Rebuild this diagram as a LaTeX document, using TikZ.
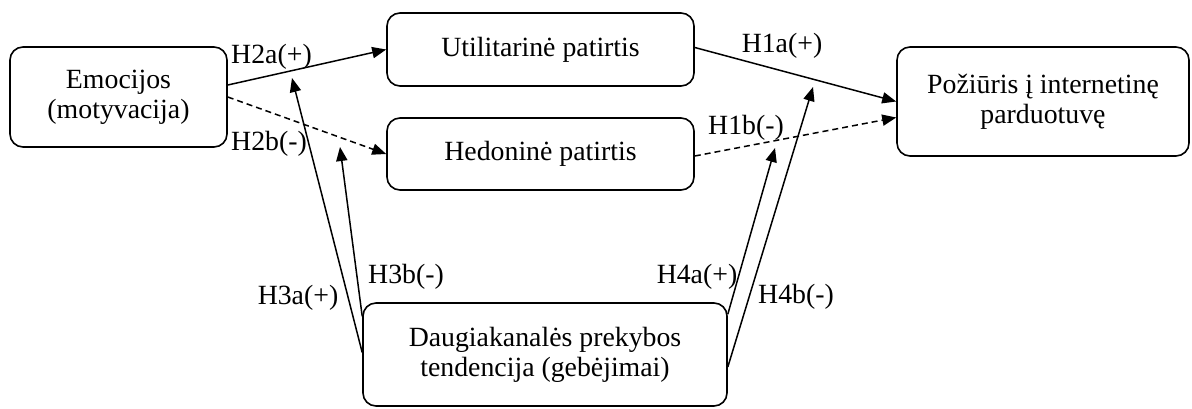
\documentclass[tikz,border=0pt]{standalone}
\usepackage{fontspec}
\setmainfont{Liberation Serif}
\usetikzlibrary{arrows.meta}
\tikzset{
  box/.style={draw, line width=0.8pt, rounded corners=6.5pt, align=center,
    inner sep=0pt, font=\fontsize{13.9}{15}\selectfont},
  link/.style={line width=0.75pt, -{Triangle[length=7pt,width=5.6pt]}},
  dashlink/.style={link, dash pattern=on 3pt off 2pt},
  hyp/.style={inner sep=0pt, font=\fontsize{13.9}{15}\selectfont}
}
\begin{document}
\begin{tikzpicture}[x=0.5pt, y=-0.5pt]
\useasboundingbox (0,0) rectangle (1192,408);

% constructs
\node[box, minimum width=108.5pt, minimum height=50pt] (emo) at (118.5,97) {Emocijos\\(motyvacija)};
\node[box, minimum width=153.5pt, minimum height=36.5pt] (util) at (540.5,49.5) {Utilitarinė patirtis};
\node[box, minimum width=153.5pt, minimum height=36pt] (hed) at (540.5,154) {Hedoninė patirtis};
\node[box, minimum width=146pt, minimum height=54.5pt] (att) at (1043,101.5) {Požiūris į internetinę\\parduotuvę};
\node[box, minimum width=182pt, minimum height=51.5pt] (dau) at (545,354.5) {Daugiakanalės prekybos\\tendencija (gebėjimai)};

% moderation targets
\coordinate (m3a) at (292,78);
\coordinate (m3b) at (340,147);
\coordinate (m4a) at (775,148);
\coordinate (m4b) at (813,87);

% direct paths
\draw[link] ([yshift=6pt]emo.east) -- (util.west);
\draw[dashlink] (emo.east) -- (hed.west);
\draw[link] ([yshift=1pt]util.east) -- (att.west);
\draw[dashlink] ([yshift=-1pt]hed.east) -- ([yshift=-8pt]att.west);

% moderating paths
\draw[link] ([yshift=1pt]dau.west) -- (m3a);
\draw[link] ([yshift=-7pt]dau.north west) -- (m3b);
\draw[link] ([yshift=-6pt]dau.north east) -- (m4a);
\draw[link] ([yshift=-6.25pt]dau.east) -- (m4b);

% hypothesis labels
\node[hyp] (h2a) at (271.5,57) {H2a(+)};
\node[hyp] (h2b) at (269,144) {H2b(-)};
\node[hyp] (h1a) at (782,46) {H1a(+)};
\node[hyp] (h1b) at (746,128) {H1b(-)};
\node[hyp] (h3a) at (298,298) {H3a(+)};
\node[hyp] (h3b) at (406,277) {H3b(-)};
\node[hyp] (h4a) at (697,277) {H4a(+)};
\node[hyp] (h4b) at (796,297) {H4b(-)};
\end{tikzpicture}
\end{document}
